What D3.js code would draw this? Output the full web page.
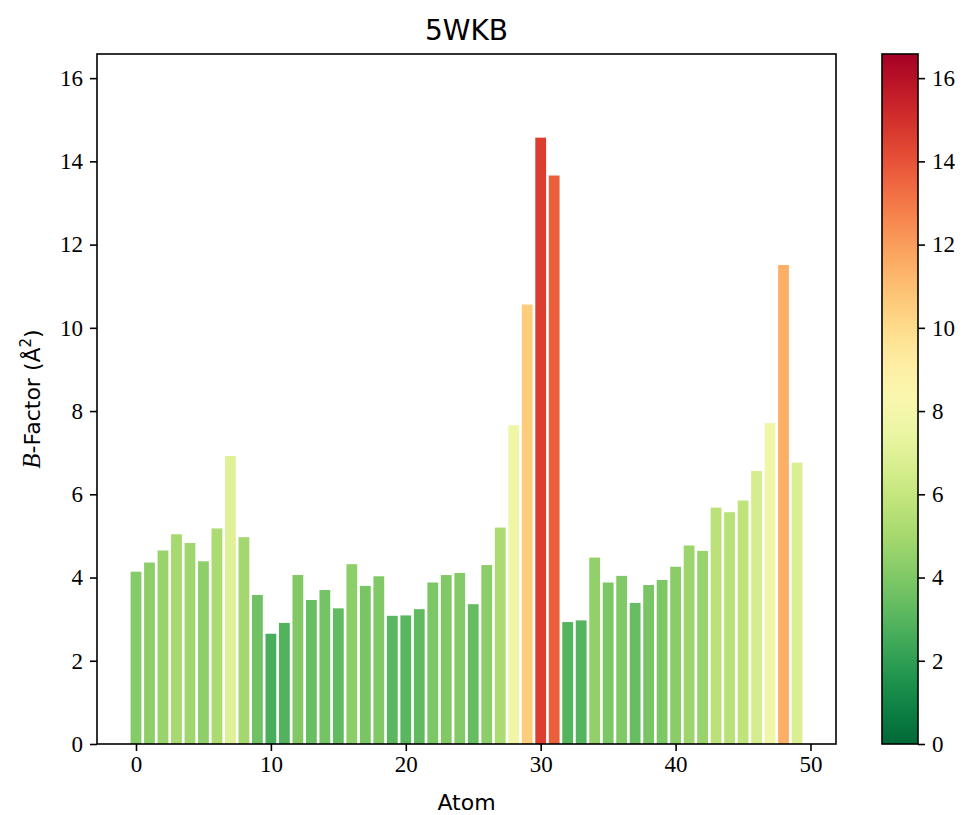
<!DOCTYPE html>
<html>
<head>
<meta charset="utf-8">
<script src="https://cdn.jsdelivr.net/npm/d3@7"></script>
<style>
  body { margin: 0; background: #fff; }
  .tick text { font-family: "Liberation Serif", serif; font-size: 23px; fill: #000; }
  .lbl { font-family: "DejaVu Sans", sans-serif; fill: #000; }
</style>
</head>
<body>
<div id="chart-area"></div>
<script>
// B-factor per atom
var atoms = d3.range(0, 50);
var bfactor = [
  4.14, 4.36, 4.65, 5.04, 4.83, 4.39, 5.18, 6.92, 4.97, 3.58,
  2.65, 2.91, 4.06, 3.46, 3.70, 3.26, 4.32, 3.80, 4.03, 3.08,
  3.09, 3.24, 3.88, 4.06, 4.11, 3.36, 4.30, 5.20, 7.66, 10.56,
  14.57, 13.66, 2.93, 2.97, 4.48, 3.88, 4.04, 3.39, 3.82, 3.94,
  4.26, 4.77, 4.64, 5.68, 5.57, 5.85, 6.56, 7.71, 11.51, 6.76
];
var xTicks = [0, 10, 20, 30, 40, 50];
var yTicks = [0, 2, 4, 6, 8, 10, 12, 14, 16];
var vmax = 16.58;

var width = 962, height = 815;
var margin = { top: 54, right: 126, bottom: 71, left: 97 };
var plotW = width - margin.left - margin.right;
var plotH = height - margin.top - margin.bottom;

var svg = d3.select("#chart-area").append("svg")
  .attr("width", width)
  .attr("height", height);

var g = svg.append("g")
  .attr("transform", "translate(" + margin.left + "," + margin.top + ")");

var x = d3.scaleLinear().domain([-2.89, 51.89]).range([0, plotW]);
var y = d3.scaleLinear().domain([0, vmax]).range([plotH, 0]);
var color = v => d3.interpolateRdYlGn(1 - v / vmax);

var barW = x(0.8) - x(0);
g.selectAll("rect.bar")
  .data(atoms).enter()
  .append("rect")
  .attr("class", "bar")
  .attr("x", d => x(d - 0.4))
  .attr("y", d => y(bfactor[d]))
  .attr("width", barW)
  .attr("height", d => plotH - y(bfactor[d]))
  .attr("fill", d => color(bfactor[d]));

var xAxis = g.append("g")
  .attr("transform", "translate(0," + plotH + ")")
  .call(d3.axisBottom(x).tickValues(xTicks).tickSize(7).tickPadding(5));
var yAxis = g.append("g")
  .call(d3.axisLeft(y).tickValues(yTicks).tickSize(7).tickPadding(7));
[xAxis, yAxis].forEach(a => {
  a.select(".domain").remove();
  a.selectAll(".tick line").attr("stroke-width", 1.6);
});

g.append("rect")
  .attr("width", plotW).attr("height", plotH)
  .attr("fill", "none").attr("stroke", "#000").attr("stroke-width", 1.6);

svg.append("text").attr("class", "lbl")
  .attr("x", margin.left + plotW / 2).attr("y", 40)
  .attr("text-anchor", "middle").attr("font-size", "28px")
  .text("5WKB");

svg.append("text").attr("class", "lbl")
  .attr("x", margin.left + plotW / 2).attr("y", 810)
  .attr("text-anchor", "middle").attr("font-size", "22px")
  .text("Atom");

var yl = svg.append("text").attr("class", "lbl")
  .attr("transform", "translate(40," + (margin.top + plotH / 2) + ") rotate(-90)")
  .attr("text-anchor", "middle").attr("font-size", "22px");
yl.append("tspan").attr("font-family", "Liberation Serif, serif").attr("font-style", "italic").attr("font-size", "25px").text("B");
yl.append("tspan").text("-Factor (Å");
yl.append("tspan").attr("font-size", "15px").attr("dy", -9).text("2");
yl.append("tspan").attr("dy", 9).text(")");

// colorbar
var cbX = 882, cbW = 36;
var defs = svg.append("defs");
var grad = defs.append("linearGradient").attr("id", "cb")
  .attr("x1", 0).attr("y1", 1).attr("x2", 0).attr("y2", 0);
d3.range(0, 1.0001, 0.05).forEach(t => {
  grad.append("stop").attr("offset", t).attr("stop-color", color(t * vmax));
});
var cb = svg.append("g").attr("transform", "translate(" + cbX + "," + margin.top + ")");
cb.append("rect").attr("width", cbW).attr("height", plotH)
  .attr("fill", "url(#cb)").attr("stroke", "#000").attr("stroke-width", 1.6);
var cbAxis = cb.append("g").attr("transform", "translate(" + cbW + ",0)")
  .call(d3.axisRight(y).tickValues(yTicks).tickSize(7).tickPadding(7));
cbAxis.select(".domain").remove();
cbAxis.selectAll(".tick line").attr("stroke-width", 1.6);
</script>
</body>
</html>
